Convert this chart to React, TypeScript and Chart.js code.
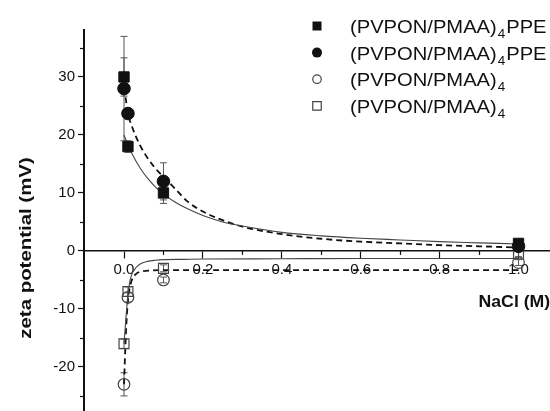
import React, { useEffect, useRef } from 'react';
import { Chart, registerables } from 'chart.js';

Chart.register(...registerables);

// ---- data ----
const xValues = [0, 0.01, 0.1, 1.0];

const ppeSquareY = [30, 18, 10, 1.3];
const ppeSquareErr = [3.3, 1.0, 1.8, 0.5];
const ppeCircleY = [28, 23.7, 12, 0.8];
const ppeCircleErr = [9, 0.8, 3.2, 0.5];
const openCircleY = [-23, -8, -5, -2];
const openCircleErr = [2.0, 0.8, 0.5, 0.5];
const openSquareY = [-16, -7, -3, -0.5];
const openSquareErr = [0.8, 0.8, 0.6, 0.5];

// fitted curves
const fitSolidPosX = [0, 0.01, 0.02, 0.04, 0.06, 0.08, 0.1, 0.13, 0.16, 0.2, 0.25, 0.3, 0.4, 0.5, 0.6, 0.7, 0.8, 0.9, 1.0];
const fitSolidPosY = [20, 18.3, 16.8, 14.4, 12.5, 11.0, 9.8, 8.4, 7.3, 6.1, 5.0, 4.3, 3.2, 2.6, 2.2, 1.9, 1.6, 1.4, 1.2];
const fitDashPosX = [0.004, 0.01, 0.02, 0.04, 0.06, 0.08, 0.1, 0.13, 0.16, 0.2, 0.25, 0.3, 0.4, 0.5, 0.6, 0.7, 0.8, 0.9, 1.0];
const fitDashPosY = [26.5, 23.7, 21.5, 18.3, 16.0, 14.2, 12.8, 10.7, 8.6, 6.8, 5.3, 4.2, 2.9, 2.1, 1.6, 1.3, 1.0, 0.8, 0.6];
const fitSolidNegX = [0, 0.005, 0.01, 0.015, 0.02, 0.03, 0.04, 0.06, 0.08, 0.1, 0.15, 0.2, 0.4, 0.6, 0.8, 1.0];
const fitSolidNegY = [-16, -11.5, -7.5, -5.2, -4.0, -2.9, -2.3, -1.8, -1.6, -1.5, -1.45, -1.4, -1.35, -1.3, -1.3, -1.3];
const fitDashNegX = [0, 0.005, 0.01, 0.015, 0.02, 0.03, 0.04, 0.06, 0.1, 0.2, 0.4, 0.6, 0.8, 1.0];
const fitDashNegY = [-23, -14, -8.5, -6.2, -5.0, -4.0, -3.6, -3.4, -3.3, -3.3, -3.3, -3.3, -3.3, -3.3];

const seriesLabels = ['(PVPON/PMAA)_4PPE', '(PVPON/PMAA)_4PPE', '(PVPON/PMAA)_4', '(PVPON/PMAA)_4'];
const yAxisTitle = 'zeta potential (mV)';
const xAxisTitle = 'NaCl (M)';

const FONT = '"Liberation Sans", Arial, sans-serif';
const INK = '#111';

const pts = (xs: number[], ys: number[]) => xs.map((x, i) => ({ x, y: ys[i] }));
const isMajorX = (v: number) => Math.abs(Math.round(v * 10)) % 2 === 0;
const isMajorY = (v: number) => Math.abs(Math.round(v)) % 10 === 0;

function drawMarker(ctx: CanvasRenderingContext2D, style: string, filled: boolean, x: number, y: number, size: number, color: string) {
  ctx.save();
  ctx.beginPath();
  if (style === 'rect') {
    ctx.rect(x - size / 2, y - size / 2, size, size);
  } else {
    ctx.arc(x, y, size / 2, 0, Math.PI * 2);
  }
  if (filled) {
    ctx.fillStyle = color;
    ctx.fill();
  } else {
    ctx.lineWidth = 1.2;
    ctx.strokeStyle = color;
    ctx.stroke();
  }
  ctx.restore();
}

const errorBarPlugin = {
  id: 'errorBars',
  beforeDatasetsDraw(chart: any) {
    const ctx = chart.ctx;
    const xs = chart.scales.x;
    const ys = chart.scales.y;
    ctx.save();
    ctx.strokeStyle = '#555';
    ctx.lineWidth = 1;
    chart.data.datasets.forEach((ds: any) => {
      if (!ds.errors) return;
      ds.data.forEach((p: any, i: number) => {
        const e = ds.errors[i];
        const px = xs.getPixelForValue(p.x);
        const top = ys.getPixelForValue(p.y + e);
        const bot = ys.getPixelForValue(p.y - e);
        ctx.beginPath();
        ctx.moveTo(px, top);
        ctx.lineTo(px, bot);
        ctx.moveTo(px - 3.5, top);
        ctx.lineTo(px + 3.5, top);
        ctx.moveTo(px - 3.5, bot);
        ctx.lineTo(px + 3.5, bot);
        ctx.stroke();
      });
    });
    ctx.restore();
  },
};

const decorPlugin = {
  id: 'decor',
  afterDraw(chart: any) {
    const ctx: CanvasRenderingContext2D = chart.ctx;
    const xs = chart.scales.x;
    const ys = chart.scales.y;
    const y0 = ys.getPixelForValue(0);
    const left = chart.chartArea.left;
    ctx.save();
    // minor ticks
    ctx.strokeStyle = INK;
    ctx.lineWidth = 1.2;
    xs.ticks.forEach((t: any) => {
      if (isMajorX(t.value)) return;
      const px = Math.round(xs.getPixelForValue(t.value)) + 0.5;
      ctx.beginPath();
      ctx.moveTo(px, y0);
      ctx.lineTo(px, y0 + 4);
      ctx.stroke();
    });
    ys.ticks.forEach((t: any) => {
      if (isMajorY(t.value)) return;
      const py = Math.round(ys.getPixelForValue(t.value)) + 0.5;
      ctx.beginPath();
      ctx.moveTo(left - 4, py);
      ctx.lineTo(left, py);
      ctx.stroke();
    });

    // axis titles
    ctx.fillStyle = INK;
    ctx.font = `bold 17px ${FONT}`;
    ctx.textBaseline = 'middle';
    ctx.save();
    ctx.translate(xs.getPixelForValue(1.0) - 40, y0 + 51);
    ctx.scale(1.04, 1);
    ctx.textAlign = 'left';
    ctx.fillText(xAxisTitle, 0, 0);
    ctx.restore();

    ctx.save();
    ctx.translate(26, 248);
    ctx.rotate(-Math.PI / 2);
    ctx.scale(1.2, 1);
    ctx.textAlign = 'center';
    ctx.fillText(yAxisTitle, 0, 0);
    ctx.restore();

    // legend
    const markerDs = chart.data.datasets.filter((d: any) => d.legendIndex !== undefined);
    markerDs.forEach((ds: any) => {
      const i = ds.legendIndex;
      const rowY = 26 + i * 26.6;
      drawMarker(ctx, ds.pointStyle, ds.filled, 317, rowY, ds.filled ? (ds.pointStyle === 'rect' ? 9 : 10) : 8.5, ds.filled ? '#111' : '#444');
      const [main, rest] = String(ds.label).split('_');
      const sub = rest ? rest.charAt(0) : '';
      const tail = rest ? rest.slice(1) : '';
      const sx = 1.12;
      const base = rowY + 7;
      let x = 350;
      ctx.textAlign = 'left';
      ctx.textBaseline = 'alphabetic';
      ctx.font = `18px ${FONT}`;
      ctx.save();
      ctx.translate(x, base);
      ctx.scale(sx, 1);
      ctx.fillText(main, 0, 0);
      ctx.restore();
      x += ctx.measureText(main).width * sx + 1;
      ctx.font = `12px ${FONT}`;
      ctx.save();
      ctx.translate(x, base + 5);
      ctx.scale(sx, 1);
      ctx.fillText(sub, 0, 0);
      ctx.restore();
      x += ctx.measureText(sub).width * sx + 1;
      ctx.font = `18px ${FONT}`;
      ctx.save();
      ctx.translate(x, base);
      ctx.scale(sx, 1);
      ctx.fillText(tail, 0, 0);
      ctx.restore();
    });
    ctx.restore();
  },
};

export default function App() {
  const canvasRef = useRef<HTMLCanvasElement | null>(null);

  useEffect(() => {
    if (!canvasRef.current) return;
    const curve = (xs: number[], ys: number[], dashed: boolean) => ({
      label: '',
      data: pts(xs, ys),
      showLine: true,
      pointRadius: 0,
      borderColor: dashed ? '#111' : '#444',
      borderWidth: dashed ? 1.8 : 1.1,
      borderDash: dashed ? [6, 4] : [],
      cubicInterpolationMode: 'monotone',
      fill: false,
      order: 2,
    });
    const marker = (ys: number[], errs: number[], style: string, filled: boolean, radius: number, idx: number) => ({
      label: seriesLabels[idx],
      data: pts(xValues, ys),
      showLine: false,
      pointStyle: style,
      pointRadius: radius,
      backgroundColor: filled ? '#111' : 'rgba(0,0,0,0)',
      borderColor: filled ? '#111' : '#444',
      borderWidth: filled ? 1 : 1.2,
      errors: errs,
      filled,
      legendIndex: idx,
      order: 1,
    });

    const chart = new Chart(canvasRef.current, {
      type: 'scatter',
      data: {
        datasets: [
          curve(fitSolidPosX, fitSolidPosY, false),
          curve(fitDashPosX, fitDashPosY, true),
          curve(fitSolidNegX, fitSolidNegY, false),
          curve(fitDashNegX, fitDashNegY, true),
          marker(ppeCircleY, ppeCircleErr, 'circle', true, 6.3, 1),
          marker(ppeSquareY, ppeSquareErr, 'rect', true, 7.3, 0),
          marker(openCircleY, openCircleErr, 'circle', false, 5.8, 2),
          marker(openSquareY, openSquareErr, 'rect', false, 7, 3),
        ] as any,
      },
      options: {
        responsive: false,
        animation: false,
        events: [],
        layout: { autoPadding: false, padding: { top: 30, left: 0, right: 0, bottom: 0 } },
        plugins: { legend: { display: false }, tooltip: { enabled: false }, title: { display: false } },
        scales: {
          x: {
            type: 'linear',
            position: { y: 0 } as any,
            min: -0.1014,
            max: 1.0798,
            afterFit: (s: any) => { s.height = 0; s.paddingLeft = 0; s.paddingRight = 0; },
            afterBuildTicks: (s: any) => { s.ticks = s.ticks.filter((t: any) => t.value > -0.05 && t.value < 1.05); },
            border: { display: true, color: INK, width: 1.5 },
            grid: {
              drawOnChartArea: false,
              drawTicks: true,
              tickLength: 7,
              tickWidth: 1.2,
              tickColor: (c: any) => (c.tick && isMajorX(c.tick.value) ? INK : 'rgba(0,0,0,0)'),
            },
            ticks: {
              stepSize: 0.1,
              includeBounds: false,
              autoSkip: false,
              maxRotation: 0,
              padding: 3,
              color: INK,
              font: { family: FONT, size: 15 },
              callback: (v: any) => (isMajorX(Number(v)) ? Number(v).toFixed(1) : ''),
            },
          },
          y: {
            type: 'linear',
            position: 'left',
            min: -27.6,
            max: 38.1,
            afterFit: (s: any) => { s.width = 84; s.paddingTop = 0; s.paddingBottom = 0; },
            border: { display: true, color: INK, width: 2 },
            grid: {
              drawOnChartArea: false,
              drawTicks: true,
              tickLength: 6,
              tickWidth: 1.2,
              tickColor: (c: any) => (c.tick && isMajorY(c.tick.value) ? INK : 'rgba(0,0,0,0)'),
            },
            ticks: {
              stepSize: 5,
              includeBounds: false,
              autoSkip: false,
              padding: 3,
              color: INK,
              font: { family: FONT, size: 15 },
              callback: (v: any) => (isMajorY(Number(v)) ? String(Math.round(Number(v))) : ''),
            },
          },
        },
      },
      plugins: [errorBarPlugin, decorPlugin],
    } as any);
    return () => chart.destroy();
  }, []);

  return (
    <div style={{ position: 'fixed', left: 0, top: 0, width: 550, height: 411, overflow: 'hidden', background: '#fff' }}>
      <canvas ref={canvasRef} width={550} height={411} style={{ display: 'block' }} />
    </div>
  );
}
